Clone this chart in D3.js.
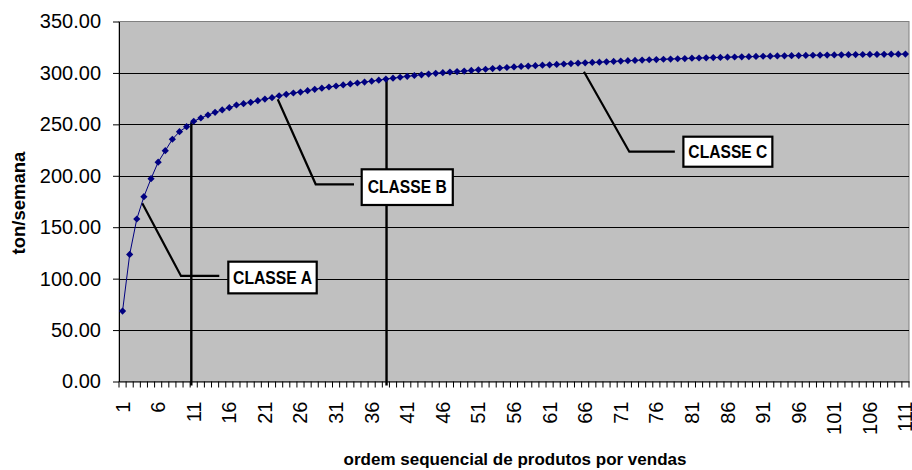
<!DOCTYPE html>
<html>
<head>
<meta charset="utf-8">
<script src="https://cdn.jsdelivr.net/npm/d3@7"></script>
<style>
  body { margin: 0; background: #fff; }
  svg { display: block; font-family: "Liberation Sans", Arial, sans-serif; }
</style>
</head>
<body>
<svg width="912" height="470"></svg>
<script>
// products ranked by sales, cumulative ton/semana
var categories = d3.range(1, 112);
var values = [
  68.5, 123.5, 158.0, 179.7, 197.2, 213.2, 224.4, 235.5, 242.9, 247.7,
  253.0, 256.2, 259.1, 261.7, 264.0, 266.2, 268.8, 270.1, 271.4, 273.0,
  274.6, 275.9, 277.8, 279.2, 280.5, 281.4, 282.7, 284.1, 285.2, 286.3,
  287.3, 288.3, 289.3, 290.2, 291.1, 292.0, 293.0, 294.0, 294.9, 295.8,
  296.7, 297.5, 298.2, 298.9, 299.6, 300.2, 300.8, 301.3, 301.8, 302.4,
  303.0, 303.6, 304.2, 304.8, 305.3, 305.8, 306.3, 306.7, 307.1, 307.5,
  307.9, 308.3, 308.7, 309.1, 309.5, 309.8, 310.2, 310.5, 310.8, 311.2,
  311.5, 311.9, 312.2, 312.5, 312.8, 313.0, 313.3, 313.5, 313.8, 314.0,
  314.3, 314.5, 314.7, 314.9, 315.1, 315.3, 315.5, 315.7, 315.8, 316.0,
  316.2, 316.3, 316.5, 316.6, 316.8, 316.9, 317.0, 317.2, 317.3, 317.4,
  317.5, 317.6, 317.7, 317.8, 317.9, 318.0, 318.0, 318.1, 318.2, 318.2,
  318.3
];
var xTickLabels = [1, 6, 11, 16, 21, 26, 31, 36, 41, 46, 51, 56, 61, 66, 71, 76, 81, 86, 91, 96, 101, 106, 111];
var yTicks = [0, 50, 100, 150, 200, 250, 300, 350];

// class limits and callouts, in data units (category position, value)
var classLines = [
  { c: 10.66, top: 252 },
  { c: 38.09, top: 294 }
];
var callouts = [
  { label: "CLASSE A", from: [3.77, 173.2], elbow: [9.21, 102.6], to: 14.59, box: [15.86, 28.28, 116.5, 85.7] },
  { label: "CLASSE B", from: [22.8, 274.4], elbow: [28.14, 191.7], to: 33.52, box: [34.6, 47.4, 206.3, 171.6] },
  { label: "CLASSE C", from: [65.83, 301.2], elbow: [72.2, 223.4], to: 78.6, box: [79.8, 92.3, 238.0, 208.8] }
];

var svg = d3.select("svg"),
    pLeft = 119, pRight = 909, pTop = 21.5, pBottom = 381.5;

var x = d3.scaleBand().domain(categories).range([pLeft, pRight]).padding(0);
var y = d3.scaleLinear().domain([0, 350]).range([pBottom, pTop]);
var xc = c => x(1) + (c - 1) * x.step() + x.bandwidth() / 2;

var data = categories.map((c, i) => ({ c: c, v: values[i] }));

// plot area
svg.append("rect")
  .attr("x", pLeft).attr("y", pTop)
  .attr("width", pRight - pLeft).attr("height", pBottom - pTop)
  .attr("fill", "#c0c0c0")
  .attr("stroke", "#808080")
  .attr("stroke-width", 1);

// gridlines
svg.append("g").selectAll("line")
  .data(yTicks.filter(d => d > 0 && d < 350))
  .enter().append("line")
  .attr("x1", pLeft).attr("x2", pRight)
  .attr("y1", d => Math.round(y(d)) + 0.5).attr("y2", d => Math.round(y(d)) + 0.5)
  .attr("stroke", "#000").attr("stroke-width", 1);

// y axis
var gy = svg.append("g")
  .attr("transform", `translate(${pLeft},0)`)
  .call(d3.axisLeft(y).tickValues(yTicks).tickFormat(d3.format(".2f")).tickSize(6).tickPadding(12).tickSizeOuter(0));
gy.select(".domain").attr("stroke", "#000");
gy.selectAll("text").attr("font-size", 20).attr("font-family", "Liberation Sans, Arial").attr("fill", "#000");

// x axis: labels every 5 products, tick marks between every product
var gx = svg.append("g")
  .attr("transform", `translate(0,${pBottom})`)
  .call(d3.axisBottom(x).tickValues(xTickLabels).tickSize(0).tickPadding(0).tickSizeOuter(0));
gx.select(".domain").attr("stroke", "#000");
gx.selectAll("text")
  .attr("font-size", 20).attr("font-family", "Liberation Sans, Arial").attr("fill", "#000")
  .attr("transform", "rotate(-90)")
  .attr("text-anchor", "end")
  .attr("dy", "0.35em")
  .attr("x", -20).attr("y", 0);
svg.append("g").selectAll("line")
  .data(categories.concat([null]))
  .enter().append("line")
  .attr("x1", d => d === null ? pRight : x(d)).attr("x2", d => d === null ? pRight : x(d))
  .attr("y1", pBottom).attr("y2", pBottom + 6)
  .attr("stroke", "#000");

// class limit lines
svg.append("g").selectAll("line")
  .data(classLines)
  .enter().append("line")
  .attr("x1", d => xc(d.c)).attr("x2", d => xc(d.c))
  .attr("y1", d => y(d.top)).attr("y2", pBottom + 4)
  .attr("stroke", "#000").attr("stroke-width", 2.4);

// callout leaders
svg.append("g").selectAll("path")
  .data(callouts)
  .enter().append("path")
  .attr("d", d => d3.line()([[xc(d.from[0]), y(d.from[1])], [xc(d.elbow[0]), y(d.elbow[1])], [xc(d.to), y(d.elbow[1])]]))
  .attr("fill", "none").attr("stroke", "#000").attr("stroke-width", 2.2);

// series line and markers
svg.append("path")
  .datum(data)
  .attr("d", d3.line().x(d => xc(d.c)).y(d => y(d.v)))
  .attr("fill", "none").attr("stroke", "#000080").attr("stroke-width", 1);

svg.append("g").selectAll("path")
  .data(data)
  .enter().append("path")
  .attr("transform", d => `translate(${xc(d.c)},${y(d.v)})`)
  .attr("d", "M0,-3.6L3.6,0L0,3.6L-3.6,0Z")
  .attr("fill", "#000080");

// callout boxes
var boxes = svg.append("g").selectAll("g")
  .data(callouts)
  .enter().append("g");
boxes.append("rect")
  .attr("x", d => xc(d.box[0])).attr("y", d => y(d.box[2]))
  .attr("width", d => xc(d.box[1]) - xc(d.box[0]))
  .attr("height", d => y(d.box[3]) - y(d.box[2]))
  .attr("fill", "#fff").attr("stroke", "#000").attr("stroke-width", 2.2);
boxes.append("text")
  .attr("x", d => (xc(d.box[0]) + xc(d.box[1])) / 2)
  .attr("y", d => (y(d.box[2]) + y(d.box[3])) / 2)
  .attr("dy", "0.36em")
  .attr("text-anchor", "middle")
  .attr("font-size", 17.5).attr("font-weight", "bold")
  .attr("textLength", 79).attr("lengthAdjust", "spacingAndGlyphs")
  .text(d => d.label);

// axis titles
svg.append("text")
  .attr("x", (pLeft + pRight) / 2 + 1).attr("y", 465)
  .attr("text-anchor", "middle")
  .attr("font-size", 17).attr("font-weight", "bold")
  .text("ordem sequencial de produtos por vendas");

svg.append("text")
  .attr("transform", "translate(25,203) rotate(-90)")
  .attr("text-anchor", "middle")
  .attr("font-size", 18.5).attr("font-weight", "bold")
  .text("ton/semana");
</script>
</body>
</html>
